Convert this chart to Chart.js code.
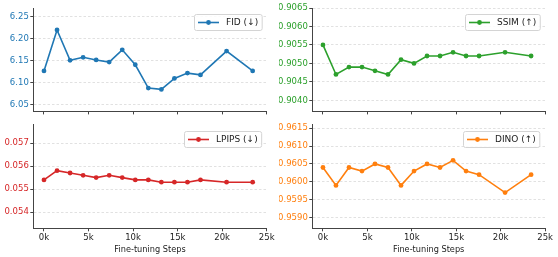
<!DOCTYPE html>
<html lang="en">
<head>
<meta charset="UTF-8">
<title>Fine-tuning metrics</title>
<script src="https://cdn.jsdelivr.net/npm/chart.js"></script>
<style>
  body { margin: 0; background: #fff; }
  canvas { position: absolute; }
</style>
</head>
<body>
<canvas id="fidChart" width="279" height="118" style="left:0;top:0"></canvas>
<canvas id="ssimChart" width="279" height="118" style="left:279px;top:0"></canvas>
<canvas id="lpipsChart" width="279" height="139" style="left:0;top:118px"></canvas>
<canvas id="dinoChart" width="279" height="139" style="left:279px;top:118px"></canvas>

<script>
    // training steps (x) shared by all four panels
    const steps = [0, 1464, 2928, 4392, 5856, 7320, 8784, 10248, 11712, 13176, 14640, 16104, 17568, 20496, 23424];
    const xTicks = [0, 5000, 10000, 15000, 20000, 25000];

    const fidValues = [6.126, 6.219, 6.150, 6.157, 6.151, 6.146, 6.174, 6.140, 6.087, 6.084, 6.109, 6.121, 6.117, 6.171, 6.126];
    const ssimValues = [0.9055, 0.9047, 0.9049, 0.9049, 0.9048, 0.9047, 0.9051, 0.9050, 0.9052, 0.9052, 0.9053, 0.9052, 0.9052, 0.9053, 0.9052];
    const lpipsValues = [0.0554, 0.0558, 0.0557, 0.0556, 0.0555, 0.0556, 0.0555, 0.0554, 0.0554, 0.0553, 0.0553, 0.0553, 0.0554, 0.0553, 0.0553];
    const dinoValues = [0.9604, 0.9599, 0.9604, 0.9603, 0.9605, 0.9604, 0.9599, 0.9603, 0.9605, 0.9604, 0.9606, 0.9603, 0.9602, 0.9597, 0.9602];

    const fidTicks = [6.05, 6.10, 6.15, 6.20, 6.25];
    const ssimTicks = [0.9040, 0.9045, 0.9050, 0.9055, 0.9060, 0.9065];
    const lpipsTicks = [0.054, 0.055, 0.056, 0.057];
    const dinoTicks = [0.9590, 0.9595, 0.9600, 0.9605, 0.9610, 0.9615];

    const FONT = 'DejaVu Sans';

    // legend box in the upper right corner of the plot area
    const boxLegend = {
        id: 'boxLegend',
        afterDatasetsDraw(chart) {
            const ds = chart.data.datasets[0];
            const ctx = chart.ctx;
            const area = chart.chartArea;
            ctx.save();
            ctx.font = '9px "' + FONT + '"';
            const textW = ctx.measureText(ds.label).width;
            const h = 16;
            const w = 3.5 + 21 + 7 + textW + 4;
            const x = Math.round(area.right - 5.5 - w) + 0.5;
            const y = Math.round(area.top + 6) + 0.5;
            ctx.beginPath();
            ctx.roundRect(x, y, w, h, 2);
            ctx.fillStyle = 'rgba(255,255,255,0.85)';
            ctx.fill();
            ctx.strokeStyle = '#d4d4d4';
            ctx.lineWidth = 1;
            ctx.stroke();
            const cy = y + h / 2;
            ctx.strokeStyle = ds.borderColor;
            ctx.lineWidth = 1.6;
            ctx.beginPath();
            ctx.moveTo(x + 3.5, cy);
            ctx.lineTo(x + 24.5, cy);
            ctx.stroke();
            ctx.fillStyle = ds.borderColor;
            ctx.beginPath();
            ctx.arc(x + 14, cy, 2.4, 0, Math.PI * 2);
            ctx.fill();
            ctx.fillStyle = '#222';
            ctx.textBaseline = 'middle';
            ctx.fillText(ds.label, x + 31.5, cy + 0.5);
            ctx.restore();
        }
    };

    function makePanel(id, label, color, values, yMin, yMax, yTicks, digits, bottomRow, rightPad) {
        return new Chart(document.getElementById(id), {
            type: 'line',
            data: {
                datasets: [{
                    label: label,
                    data: steps.map((s, i) => ({x: s, y: values[i]})),
                    borderColor: color,
                    backgroundColor: color,
                    borderWidth: 1.6,
                    pointRadius: 2.4,
                    pointHoverRadius: 2.4,
                    pointBorderWidth: 0,
                    tension: 0
                }]
            },
            options: {
                responsive: false,
                animation: false,
                layout: { padding: { top: bottomRow ? 3.5 : 8, right: rightPad, left: 0, bottom: 0 } },
                plugins: { legend: { display: false }, tooltip: { enabled: false } },
                scales: {
                    x: {
                        type: 'linear',
                        min: -1200,
                        max: 25000,
                        afterBuildTicks: s => { s.ticks = xTicks.map(v => ({value: v})); },
                        afterFit: s => { s.height = bottomRow ? 28.7 : 3.3; },
                        grid: { drawOnChartArea: false, tickLength: 3, tickColor: '#444', tickWidth: 1 },
                        border: { color: '#444', width: 1 },
                        ticks: {
                            display: bottomRow,
                            color: '#222',
                            font: { family: FONT, size: 8.5 },
                            padding: 1,
                            maxRotation: 0,
                            callback: v => (v / 1000) + 'k'
                        },
                        title: {
                            display: bottomRow,
                            text: 'Fine-tuning Steps',
                            color: '#222',
                            font: { family: FONT, size: 8.2 },
                            padding: { top: 0, bottom: 2 }
                        }
                    },
                    y: {
                        min: yMin,
                        max: yMax,
                        afterBuildTicks: s => { s.ticks = yTicks.map(v => ({value: v})); },
                        afterFit: s => { s.width = 33.3; },
                        grid: { color: '#d9d9d9', lineWidth: 0.8, tickLength: 3, tickColor: '#444', tickWidth: 1 },
                        border: { color: '#444', width: 1, dash: [2.5, 2] },
                        ticks: {
                            color: color,
                            font: { family: FONT, size: 8.5 },
                            padding: 1.5,
                            callback: v => v.toFixed(digits)
                        }
                    }
                }
            },
            plugins: [boxLegend]
        });
    }

    makePanel('fidChart', 'FID (↓)', '#1f77b4', fidValues, 6.034, 6.269, fidTicks, 2, false, 12.3);
    makePanel('ssimChart', 'SSIM (↑)', '#2ca02c', ssimValues, 0.9037, 0.9065, ssimTicks, 4, false, 12.9);
    makePanel('lpipsChart', 'LPIPS (↓)', '#d62728', lpipsValues, 0.0533, 0.0578, lpipsTicks, 3, true, 12.3);
    makePanel('dinoChart', 'DINO (↑)', '#ff7f0e', dinoValues, 0.9587, 0.9616, dinoTicks, 4, true, 12.9);
</script>
</body>
</html>
